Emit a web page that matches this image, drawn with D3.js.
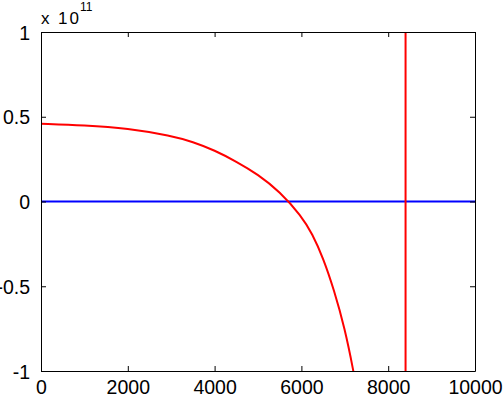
<!DOCTYPE html>
<html><head><meta charset="utf-8">
<script src="https://cdn.jsdelivr.net/npm/d3@7"></script>
<style>html,body{margin:0;padding:0;background:#fff;}svg{display:block;}</style>
</head><body>
<script>
// Data (y values in units of 1e11)
const curveX = [0, 1000, 2000, 3000, 3500, 4000, 4500, 5000, 5500, 6000, 6250, 6500, 6750, 7000, 7200, 7300];
const curveY = [0.459, 0.450, 0.432, 0.388, 0.352, 0.302, 0.236, 0.160, 0.059, -0.085, -0.190, -0.332, -0.520, -0.749, -1.0, -1.15];
const hLineY = 0;          // blue horizontal line
const vLineX = 8400;       // red vertical line
const xTicks = [0, 2000, 4000, 6000, 8000, 10000];
const yTicks = [-1, -0.5, 0, 0.5, 1];
const exponent = "11";

const W = 504, H = 394;
const m = {left: 41, right: 29, top: 32, bottom: 23};
const svg = d3.select("body").append("svg").attr("width", W).attr("height", H);
const x = d3.scaleLinear().domain([0, 10000]).range([m.left, W - m.right]);
const y = d3.scaleLinear().domain([-1, 1]).range([H - m.bottom, m.top]);
const font = "Arial, 'Liberation Sans', Helvetica, sans-serif";

svg.append("defs").append("clipPath").attr("id", "clip")
  .append("rect").attr("x", x(0)).attr("y", y(1)).attr("width", x(10000) - x(0)).attr("height", y(-1) - y(1));

const plot = svg.append("g").attr("clip-path", "url(#clip)");
plot.append("line").attr("x1", x(0)).attr("x2", x(10000)).attr("y1", y(hLineY)).attr("y2", y(hLineY))
  .attr("stroke", "#0000ff").attr("stroke-width", 2);
const pts = curveX.map((d, i) => [d, curveY[i]]);
plot.append("path").datum(pts)
  .attr("d", d3.line().x(d => x(d[0])).y(d => y(d[1])).curve(d3.curveBasis))
  .attr("fill", "none").attr("stroke", "#ff0000").attr("stroke-width", 2);
plot.append("line").attr("x1", x(vLineX)).attr("x2", x(vLineX)).attr("y1", y(1)).attr("y2", y(-1))
  .attr("stroke", "#ff0000").attr("stroke-width", 2);

// Axes (MATLAB-style, inward ticks, box)
const tk = 5;
const xb = svg.append("g").attr("transform", `translate(0,${y(-1)})`)
  .call(d3.axisBottom(x).tickValues(xTicks).tickSizeInner(-tk).tickSizeOuter(0).tickPadding(tk + 4).tickFormat(d3.format("d")));
const xt = svg.append("g").attr("transform", `translate(0,${y(1)})`)
  .call(d3.axisTop(x).tickValues(xTicks).tickSizeInner(-tk).tickSizeOuter(0).tickFormat(""));
const yl = svg.append("g").attr("transform", `translate(${x(0)},0)`)
  .call(d3.axisLeft(y).tickValues(yTicks).tickSizeInner(-tk).tickSizeOuter(0).tickPadding(tk + 6).tickFormat(d => d));
const yr = svg.append("g").attr("transform", `translate(${x(10000)},0)`)
  .call(d3.axisRight(y).tickValues(yTicks).tickSizeInner(-tk).tickSizeOuter(0).tickFormat(""));
[xb, xt, yl, yr].forEach(g => {
  g.select(".domain").attr("stroke", "#000").attr("stroke-width", 1);
  g.selectAll(".tick line").attr("stroke", "#000");
  g.selectAll("text").attr("font-family", font).attr("font-size", 19.5).attr("fill", "#000");
});
yl.selectAll(".tick text").attr("dy", "0.36em");
xb.selectAll(".tick text").attr("dy", "0.71em");

// Exponent label
const ex = svg.append("text").attr("x", x(0)).attr("y", 23.5).attr("font-family", font).attr("fill", "#000");
ex.append("tspan").attr("font-size", 17).attr("textLength", 38).attr("lengthAdjust", "spacing").text("x 10");
ex.append("tspan").attr("font-size", 12).attr("x", x(0) + 39).attr("y", 10.5).text(exponent);
</script>
</body></html>
